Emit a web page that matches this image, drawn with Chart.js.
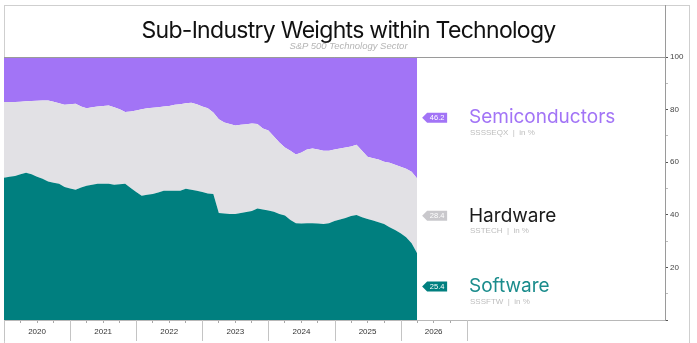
<!DOCTYPE html>
<html>
<head>
<meta charset="utf-8">
<script src="https://cdn.jsdelivr.net/npm/chart.js@4.4.1/dist/chart.umd.min.js"></script>
<style>
  html, body { margin: 0; padding: 0; background: #fff; }
  #wrap { position: relative; width: 697px; height: 343px; overflow: hidden; }
  #frame { position: absolute; left: 4px; top: 5px; width: 686px; height: 345px;
           border: 1px solid #cfcfcf; box-sizing: border-box; }
  #title { position: absolute; left: 0; width: 697px; top: 16px; text-align: center;
           font-family: Inter, "Noto Sans", sans-serif; font-size: 23px; letter-spacing: -0.7px;
           color: #111; line-height: 28px; }
  #subtitle { position: absolute; left: 0; width: 697px; top: 41px; text-align: center;
              font-family: "Liberation Sans", Arial, sans-serif; font-style: italic; font-size: 9.5px;
              color: #b5b5b5; line-height: 10px; }
  canvas { position: absolute; left: 0; top: 0; }
</style>
</head>
<body>
<div id="wrap">
  <div id="frame"></div>
  <canvas id="weightsChart" width="697" height="343"></canvas>
  <div id="title">Sub-Industry Weights within Technology</div>
  <div id="subtitle">S&amp;P 500 Technology Sector</div>
</div>
<script>
// monthly readings, Jan 2020 - Apr 2026 (share of the sector, in %)
const months = [
  '2020-01','2020-02','2020-03','2020-04','2020-05','2020-06','2020-07','2020-08','2020-09','2020-10','2020-11','2020-12',
  '2021-01','2021-02','2021-03','2021-04','2021-05','2021-06','2021-07','2021-08','2021-09','2021-10','2021-11','2021-12',
  '2022-01','2022-02','2022-03','2022-04','2022-05','2022-06','2022-07','2022-08','2022-09','2022-10','2022-11','2022-12',
  '2023-01','2023-02','2023-03','2023-04','2023-05','2023-06','2023-07','2023-08','2023-09','2023-10','2023-11','2023-12',
  '2024-01','2024-02','2024-03','2024-04','2024-05','2024-06','2024-07','2024-08','2024-09','2024-10','2024-11','2024-12',
  '2025-01','2025-02','2025-03','2025-04','2025-05','2025-06','2025-07','2025-08','2025-09','2025-10','2025-11','2025-12',
  '2026-01','2026-02','2026-03','2026-04'
];

const software = [
  54.1, 54.5, 54.8, 55.4, 56.0, 55.4, 54.5, 53.7, 52.7, 52.2, 51.8, 50.6,
  50.0, 49.5, 50.4, 51.0, 51.4, 51.8, 51.8, 51.8, 51.4, 51.6, 51.8, 50.2,
  48.7, 47.2, 47.6, 47.9, 48.5, 49.1, 49.1, 49.1, 49.1, 49.9, 49.5, 49.1,
  48.7, 48.1, 47.9, 40.7, 40.5, 40.3, 40.3, 40.7, 41.1, 41.4, 42.4, 42.0,
  41.6, 41.2, 40.3, 39.7, 38.0, 36.8, 36.7, 36.8, 36.8, 36.7, 36.5, 36.8,
  37.6, 38.2, 38.8, 39.5, 39.9, 39.1, 38.4, 37.8, 37.2, 36.5, 35.3, 34.2,
  33.0, 31.5, 29.2, 25.4
];

const hardware = [
  28.8, 28.4, 28.1, 27.6, 27.2, 27.9, 28.9, 29.8, 30.8, 30.8, 30.6, 31.2,
  32.0, 32.7, 30.8, 29.5, 29.5, 29.4, 29.6, 29.8, 29.5, 28.5, 27.3, 29.1,
  31.0, 32.9, 32.9, 32.8, 32.4, 32.1, 32.3, 32.7, 32.9, 32.5, 33.1, 32.9,
  32.5, 32.4, 31.0, 35.6, 34.6, 34.2, 33.7, 33.5, 33.3, 33.3, 32.1, 30.8,
  30.5, 28.6, 27.2, 25.9, 26.4, 26.1, 27.0, 28.0, 28.4, 28.1, 27.9, 27.6,
  27.2, 27.0, 26.8, 26.5, 26.7, 25.3, 23.7, 23.7, 23.8, 23.7, 24.5, 24.8,
  25.3, 26.0, 27.2, 28.4
];

const semis = [
  17.1, 17.1, 17.1, 17.0, 16.8, 16.7, 16.6, 16.5, 16.5, 17.0, 17.6, 18.2,
  18.0, 17.8, 18.8, 19.5, 19.1, 18.8, 18.6, 18.4, 19.1, 19.9, 20.9, 20.7,
  20.3, 19.9, 19.5, 19.3, 19.1, 18.8, 18.6, 18.2, 18.0, 17.6, 17.4, 18.0,
  18.8, 19.5, 21.1, 23.7, 24.9, 25.5, 26.0, 25.8, 25.6, 25.3, 25.5, 27.2,
  27.9, 30.2, 32.5, 34.4, 35.6, 37.1, 36.3, 35.2, 34.8, 35.2, 35.6, 35.6,
  35.2, 34.8, 34.4, 34.0, 33.4, 35.6, 37.9, 38.5, 39.0, 39.8, 40.2, 41.0,
  41.7, 42.5, 43.6, 46.2
];

const yearLabels = [2020, 2021, 2022, 2023, 2024, 2025, 2026];
const seriesNames = ['Software', 'Hardware', 'Semiconductors'];
const seriesCodes = ['SSSFTW', 'SSTECH', 'SSSSEQX'];

const TEAL = '#007f7f';
const GREY = '#e2e1e5';
const PURPLE = '#a274f6';

// month string -> decimal year for the linear x scale
function toYear(m) {
    const [y, mo] = m.split('-').map(Number);
    return y + (mo - 1) / 12;
}

function points(values) {
    return values.map((v, i) => ({ x: toYear(months[i]), y: v }));
}

// lines, tags and end labels that Chart.js has no option for
const overlayPlugin = {
    id: 'overlay',
    afterDraw(chart) {
        const ctx = chart.ctx;
        const area = chart.chartArea;
        const xs = chart.scales.x;
        const ys = chart.scales.y;

        ctx.save();
        ctx.strokeStyle = '#9a9a9a';
        ctx.lineWidth = 1;
        // top line of the plot
        ctx.beginPath();
        ctx.moveTo(area.left, Math.round(area.top) + 0.5);
        ctx.lineTo(area.right, Math.round(area.top) + 0.5);
        ctx.stroke();
        // right axis line runs up to the frame
        ctx.beginPath();
        ctx.moveTo(Math.round(area.right) + 0.5, 5);
        ctx.lineTo(Math.round(area.right) + 0.5, area.top);
        ctx.stroke();

        // year separators under the plot
        ctx.strokeStyle = '#c4c4c4';
        for (let yr = yearLabels[0]; yr <= yearLabels[yearLabels.length - 1] + 1; yr++) {
            const px = Math.round(xs.getPixelForValue(yr)) + 0.5;
            ctx.beginPath();
            ctx.moveTo(px, area.bottom);
            ctx.lineTo(px, area.bottom + 21);
            ctx.stroke();
        }

        // end-of-series tags and names
        const last = months.length - 1;
        const xEnd = xs.getPixelForValue(toYear(months[last])) + 5;
        const colours = [TEAL, '#c9c8cc', PURPLE];
        const nameColours = ['#1b8c8c', '#1a1a1a', '#a274f6'];
        let base = 0;
        chart.data.datasets.forEach((ds, i) => {
            const v = ds.data[last].y;
            const y = ys.getPixelForValue(base + v / 2);
            base += v;

            ctx.fillStyle = colours[i];
            ctx.beginPath();
            ctx.moveTo(xEnd, y);
            ctx.lineTo(xEnd + 5, y - 5);
            ctx.lineTo(xEnd + 25, y - 5);
            ctx.lineTo(xEnd + 25, y + 5);
            ctx.lineTo(xEnd + 5, y + 5);
            ctx.closePath();
            ctx.fill();

            ctx.fillStyle = '#fff';
            ctx.font = '7.5px "Liberation Sans", Arial, sans-serif';
            ctx.textAlign = 'center';
            ctx.textBaseline = 'middle';
            ctx.fillText(v.toFixed(1), xEnd + 15, y + 0.5);

            ctx.textAlign = 'left';
            ctx.fillStyle = nameColours[i];
            ctx.font = '19px Inter, "Noto Sans", sans-serif';
            ctx.fillText(seriesNames[i], 469, y);

            ctx.fillStyle = '#bdbdbd';
            ctx.font = '8px "Liberation Sans", Arial, sans-serif';
            ctx.fillText(seriesCodes[i] + '  |  in %', 470, y + 15);
        });
        ctx.restore();
    }
};

const ctx = document.getElementById('weightsChart').getContext('2d');

new Chart(ctx, {
    type: 'line',
    data: {
        datasets: [
            { label: 'Software', data: points(software), backgroundColor: TEAL, fill: 'origin' },
            { label: 'Hardware', data: points(hardware), backgroundColor: GREY, fill: '-1' },
            { label: 'Semiconductors', data: points(semis), backgroundColor: PURPLE, fill: '-1' }
        ]
    },
    options: {
        responsive: false,
        animation: false,
        layout: { padding: { left: 4, top: 57, right: 0, bottom: 0 } },
        elements: {
            point: { radius: 0 },
            line: { borderWidth: 0, tension: 0 }
        },
        plugins: {
            legend: { display: false },
            tooltip: { enabled: false }
        },
        scales: {
            x: {
                type: 'linear',
                min: 2020,
                max: 2030,
                afterFit(scale) { scale.height = 23; },
                ticks: {
                    stepSize: 0.25,
                    autoSkip: false,
                    maxRotation: 0,
                    padding: 4,
                    color: '#333',
                    font: { family: '"Liberation Sans", Arial, sans-serif', size: 8 },
                    callback: v => (v % 1 === 0.5 && v < 2027) ? String(Math.floor(v)) : ''
                },
                grid: {
                    drawOnChartArea: false,
                    tickLength: 3,
                    color: c => (c.tick && c.tick.value % 1 !== 0 && c.tick.value < 2027) ? '#a8a8a8' : 'rgba(0,0,0,0)'
                },
                border: { display: true, color: '#b8b8b8' }
            },
            y: {
                position: 'right',
                stacked: true,
                min: 0,
                max: 100,
                afterFit(scale) { scale.width = 32; },
                ticks: {
                    stepSize: 10,
                    padding: 2,
                    color: '#444',
                    font: { family: '"Liberation Sans", Arial, sans-serif', size: 8 },
                    callback: v => (v % 20 === 0 && v > 0) ? v : ''
                },
                grid: {
                    drawOnChartArea: false,
                    tickLength: 3,
                    color: c => (c.tick && c.tick.value % 20 === 0) ? '#555' : '#bbb'
                },
                border: { display: true, color: '#9a9a9a' }
            }
        }
    },
    plugins: [overlayPlugin]
});
</script>
</body>
</html>
